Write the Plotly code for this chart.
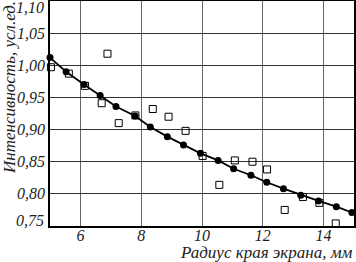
import plotly.graph_objects as go

# Fitted curve (black dots joined by line)
fit_x = [5.0, 5.53, 6.12, 6.65, 7.17, 7.8, 8.3, 8.86, 9.39, 9.95, 10.53, 11.04,
         11.61, 12.13, 12.68, 13.25, 13.83, 14.42, 14.93]
fit_y = [1.012, 0.990, 0.970, 0.953, 0.936, 0.921, 0.904, 0.889, 0.876, 0.863,
         0.852, 0.839, 0.829, 0.818, 0.808, 0.798, 0.789, 0.780, 0.771]

# Experimental points (open squares)
exp_x = [5.03, 5.62, 6.15, 6.7, 6.89, 7.26, 7.81, 8.38, 8.9, 9.46, 10.02, 10.57,
         11.08, 11.66, 12.14, 12.72, 13.32, 13.86, 14.4]
exp_y = [0.997, 0.987, 0.968, 0.941, 1.018, 0.910, 0.922, 0.932, 0.920, 0.898,
         0.859, 0.814, 0.852, 0.850, 0.838, 0.775, 0.795, 0.786, 0.754]

x_ticks = [6, 8, 10, 12, 14]
y_ticks = [0.75, 0.80, 0.85, 0.90, 0.95, 1.00, 1.05, 1.10]
y_labels = ["0,75", "0,80", "0,85", "0,90", "0,95", "1,00", "1,05", "1,10"]

x_title = "Радиус края экрана, мм"
y_title = "Интенсивность, усл.ед."

font_family = "'Liberation Serif', 'DejaVu Serif', serif"
W, H = 356, 262
ML, MR, MT, MB = 50, 2, 1, 36
PW, PH = W - ML - MR, H - MT - MB


def px_x(px):
    return (px - ML) / PW


def px_y(py):
    return (H - MB - py) / PH


tick_font = dict(family=font_family, size=16, color="#222", style="italic")
title_font = dict(family=font_family, size=17, color="#222", style="italic")

fig = go.Figure()
fig.add_trace(go.Scatter(
    x=exp_x, y=exp_y, mode="markers",
    marker=dict(symbol="square-open", size=7, color="black", line=dict(width=1)),
    showlegend=False, cliponaxis=False,
))
fig.add_trace(go.Scatter(
    x=fit_x, y=fit_y, mode="lines+markers",
    line=dict(color="black", width=1.8),
    marker=dict(symbol="circle", size=7, color="black"),
    showlegend=False, cliponaxis=False,
))

# middle y labels come from the axis, end labels are kept inside the frame
axis_text = [t if 0 < i < len(y_labels) - 1 else "" for i, t in enumerate(y_labels)]
annotations = [
    dict(text=x_title, x=px_x(355), y=px_y(252), xanchor="right", yanchor="middle",
         font=title_font),
    dict(text=y_title, x=px_x(9), y=px_y(88), xanchor="center", yanchor="middle",
         textangle=-90, font=title_font),
    dict(text=y_labels[-1], x=px_x(46), y=px_y(8), xanchor="right", yanchor="middle",
         font=tick_font),
    dict(text=y_labels[0], x=px_x(46), y=px_y(220), xanchor="right", yanchor="middle",
         font=tick_font),
]
for a in annotations:
    a.update(xref="paper", yref="paper", showarrow=False)

fig.update_layout(
    width=W, height=H,
    margin=dict(l=ML, r=MR, t=MT, b=MB, autoexpand=False),
    paper_bgcolor="white", plot_bgcolor="white",
    font=tick_font,
    annotations=annotations,
)

fig.update_xaxes(
    range=[5, 15], tickvals=x_ticks, ticktext=[str(v) for v in x_ticks],
    showgrid=True, gridcolor="#666", gridwidth=1.2,
    showline=True, mirror=True, linecolor="black", linewidth=1.5,
    ticks="", zeroline=False, automargin=False, ticklabelstandoff=-6,
)
fig.update_yaxes(
    range=[0.75, 1.10], tickvals=y_ticks, ticktext=axis_text,
    showgrid=True, gridcolor="#333", gridwidth=1,
    showline=True, mirror=True, linecolor="black", linewidth=1.5,
    ticks="", zeroline=False, automargin=False,
)

fig.write_html("out.html", config={"displayModeBar": False},
               post_script="document.body.style.margin='0';")
